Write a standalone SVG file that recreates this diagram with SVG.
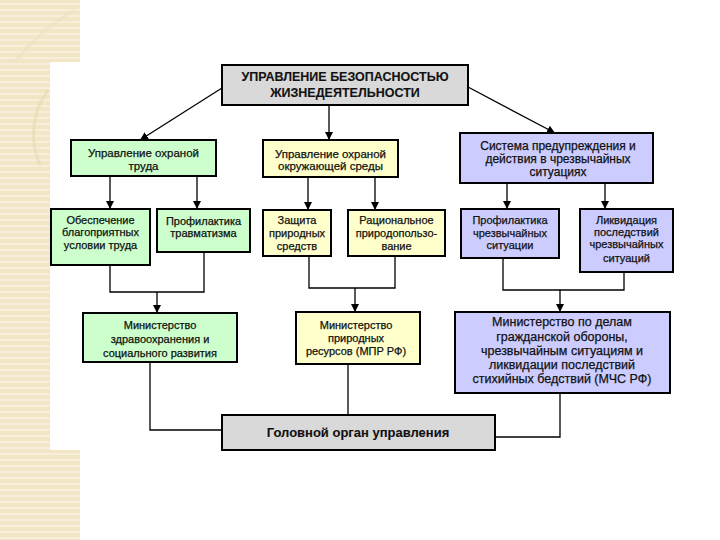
<svg xmlns="http://www.w3.org/2000/svg" width="720" height="540" viewBox="0 0 720 540">
<style>
.box{stroke:#000;stroke-width:2}
.g{fill:#ccffcc}.y{fill:#ffffcc}.p{fill:#ccccff}.k{fill:#d9d9d9}
.t{font-family:"Liberation Sans",Arial,sans-serif;font-size:11px;fill:#111;stroke:#111;stroke-width:0.25;text-anchor:middle}
.b{font-weight:bold;stroke-width:0.1}
.c{fill:none;stroke:#000;stroke-width:1.3}
</style>
<defs>
<pattern id="stripes" width="8" height="6" patternUnits="userSpaceOnUse">
<rect width="8" height="6" fill="#f2e6c6"/>
<rect y="3" width="8" height="2" fill="#f7efda"/>
</pattern>
<marker id="ar" viewBox="0 0 10 10" refX="10" refY="5" markerWidth="8" markerHeight="8" markerUnits="userSpaceOnUse" orient="auto">
<path d="M0,0 L10,5 L0,10 z" fill="#000"/>
</marker>
</defs>
<rect width="720" height="540" fill="#fff"/>
<g id="background">
<rect x="0" y="0" width="80" height="62" fill="url(#stripes)"/>
<rect x="0" y="62" width="50" height="390" fill="url(#stripes)"/>
<rect x="0" y="450" width="80" height="90" fill="url(#stripes)"/>
<path d="M48,90 A75,75 0 0 0 40,165" fill="none" stroke="#e8d8b0" stroke-width="3" opacity="0.6"/>
<path d="M15,62 Q40,30 75,10" fill="none" stroke="#ece0c0" stroke-width="3" opacity="0.5"/>
</g>
<g id="connectors">
<line class="c" x1="222" y1="88" x2="140" y2="140" marker-end="url(#ar)"/>
<line class="c" x1="329" y1="105" x2="329" y2="140" marker-end="url(#ar)"/>
<line class="c" x1="468" y1="87" x2="555" y2="133" marker-end="url(#ar)"/>
<line class="c" x1="110" y1="176" x2="110" y2="209" marker-end="url(#ar)"/>
<line class="c" x1="197" y1="176" x2="197" y2="209" marker-end="url(#ar)"/>
<line class="c" x1="308" y1="177" x2="308" y2="210" marker-end="url(#ar)"/>
<line class="c" x1="375" y1="177" x2="375" y2="210" marker-end="url(#ar)"/>
<line class="c" x1="507" y1="183" x2="507" y2="209" marker-end="url(#ar)"/>
<line class="c" x1="605" y1="183" x2="605" y2="209" marker-end="url(#ar)"/>
<path class="c" d="M110,265 V292 H204 V252"/>
<line class="c" x1="157" y1="292" x2="157" y2="313" marker-end="url(#ar)"/>
<path class="c" d="M309,256 V288 H395 V256"/>
<line class="c" x1="355" y1="288" x2="355" y2="312" marker-end="url(#ar)"/>
<path class="c" d="M503,258 V290 H624 V272"/>
<line class="c" x1="560" y1="290" x2="560" y2="312" marker-end="url(#ar)"/>
<path class="c" d="M150,362 V430 H222"/>
<line class="c" x1="348" y1="364" x2="348" y2="415"/>
<path class="c" d="M560,393 V437 H495"/>
</g>
<g id="top">
<rect class="box k" x="222" y="65" width="246" height="40"/>
<text class="t b" style="font-size:12.5px" x="345" y="81">УПРАВЛЕНИЕ БЕЗОПАСНОСТЬЮ</text>
<text class="t b" style="font-size:12.5px" x="345" y="97">ЖИЗНЕДЕЯТЕЛЬНОСТИ</text>
</g>
<g id="labor">
<rect class="box g" x="71" y="140" width="145" height="36"/>
<text class="t" style="font-size:11.5px" x="143.5" y="157">Управление охраной</text>
<text class="t" style="font-size:11.5px" x="143.5" y="170">труда</text>
</g>
<g id="environment">
<rect class="box y" x="263" y="140" width="135" height="37"/>
<text class="t" style="font-size:11.5px" x="330.5" y="158">Управление охраной</text>
<text class="t" style="font-size:11.5px" x="330.5" y="170">окружающей среды</text>
</g>
<g id="emergency">
<rect class="box p" x="460" y="133" width="193" height="50"/>
<text class="t" style="font-size:12px" x="558" y="150">Система предупреждения и</text>
<text class="t" style="font-size:12px" x="558" y="163">действия в чрезвычайных</text>
<text class="t" style="font-size:12px" x="558" y="176">ситуациях</text>
</g>
<g id="conditions">
<rect class="box g" x="51" y="209" width="99" height="56"/>
<text class="t" x="100.5" y="224">Обеспечение</text>
<text class="t" x="100.5" y="236">благоприятных</text>
<text class="t" x="100.5" y="249">условии труда</text>
</g>
<g id="injury">
<rect class="box g" x="157" y="209" width="93" height="43"/>
<text class="t" x="203.5" y="225">Профилактика</text>
<text class="t" x="203.5" y="237">травматизма</text>
</g>
<g id="protection">
<rect class="box y" x="263" y="210" width="68" height="46"/>
<text class="t" x="297" y="224">Защита</text>
<text class="t" x="297" y="237">природных</text>
<text class="t" x="297" y="250">средств</text>
</g>
<g id="rational">
<rect class="box y" x="348" y="210" width="97" height="46"/>
<text class="t" x="396.5" y="224">Рациональное</text>
<text class="t" x="396.5" y="237">природопользо-</text>
<text class="t" x="396.5" y="250">вание</text>
</g>
<g id="prevention">
<rect class="box p" x="461" y="209" width="98" height="49"/>
<text class="t" x="510" y="224">Профилактика</text>
<text class="t" x="510" y="237">чрезвычайных</text>
<text class="t" x="510" y="249">ситуации</text>
</g>
<g id="liquidation">
<rect class="box p" x="580" y="209" width="93" height="63"/>
<text class="t" x="626.5" y="224">Ликвидация</text>
<text class="t" x="626.5" y="236">последствий</text>
<text class="t" x="626.5" y="248">чрезвычайных</text>
<text class="t" x="626.5" y="262">ситуаций</text>
</g>
<g id="minzdrav">
<rect class="box g" x="83" y="313" width="154" height="49"/>
<text class="t" x="160" y="329">Министерство</text>
<text class="t" x="160" y="343">здравоохранения и</text>
<text class="t" x="160" y="357">социального развития</text>
</g>
<g id="mpr">
<rect class="box y" x="296" y="312" width="124" height="52"/>
<text class="t" x="356" y="329">Министерство</text>
<text class="t" x="356" y="342">природных</text>
<text class="t" x="356" y="355">ресурсов (МПР РФ)</text>
</g>
<g id="mchs">
<rect class="box p" x="455" y="312" width="215" height="81"/>
<text class="t" style="font-size:12.5px" x="562" y="326">Министерство по делам</text>
<text class="t" style="font-size:12.5px" x="562" y="341">гражданской обороны,</text>
<text class="t" style="font-size:12.5px" x="562" y="355">чрезвычайным ситуациям и</text>
<text class="t" style="font-size:12.5px" x="562" y="369">ликвидации последствий</text>
<text class="t" style="font-size:12.5px" x="562" y="383">стихийных бедствий (МЧС РФ)</text>
</g>
<g id="head">
<rect class="box k" x="222" y="415" width="273" height="35"/>
<text class="t b" style="font-size:13px" x="358" y="437">Головной орган управления</text>
</g>
</svg>
